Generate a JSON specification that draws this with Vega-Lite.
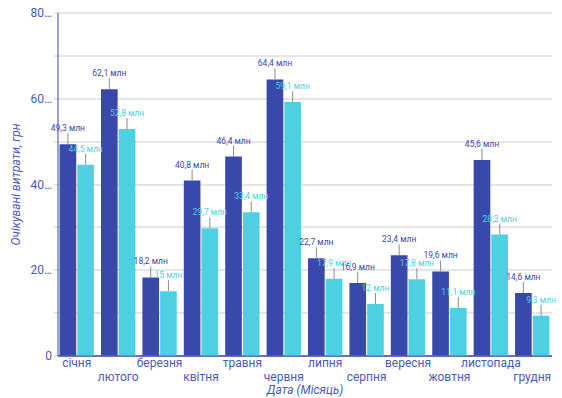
{
  "$schema": "https://vega.github.io/schema/vega-lite/v6.json",
  "autosize": {"type": "none"},
  "padding": {"left": 57.5, "top": 12.5, "right": 10.5, "bottom": 42},
  "width": 494,
  "height": 343,
  "background": "white",
  "config": {
    "font": "Roboto",
    "view": {"stroke": null}
  },
  "data": {
    "values": [
      {"month": "січня", "s": "a", "v": 49.3, "label": "49,3 млн"},
      {"month": "січня", "s": "b", "v": 44.5, "label": "44,5 млн"},
      {"month": "лютого", "s": "a", "v": 62.1, "label": "62,1 млн"},
      {"month": "лютого", "s": "b", "v": 52.8, "label": "52,8 млн"},
      {"month": "березня", "s": "a", "v": 18.2, "label": "18,2 млн"},
      {"month": "березня", "s": "b", "v": 15, "label": "15 млн"},
      {"month": "квітня", "s": "a", "v": 40.8, "label": "40,8 млн"},
      {"month": "квітня", "s": "b", "v": 29.7, "label": "29,7 млн"},
      {"month": "травня", "s": "a", "v": 46.4, "label": "46,4 млн"},
      {"month": "травня", "s": "b", "v": 33.4, "label": "33,4 млн"},
      {"month": "червня", "s": "a", "v": 64.4, "label": "64,4 млн"},
      {"month": "червня", "s": "b", "v": 59.1, "label": "59,1 млн"},
      {"month": "липня", "s": "a", "v": 22.7, "label": "22,7 млн"},
      {"month": "липня", "s": "b", "v": 17.9, "label": "17,9 млн"},
      {"month": "серпня", "s": "a", "v": 16.9, "label": "16,9 млн"},
      {"month": "серпня", "s": "b", "v": 12, "label": "12 млн"},
      {"month": "вересня", "s": "a", "v": 23.4, "label": "23,4 млн"},
      {"month": "вересня", "s": "b", "v": 17.8, "label": "17,8 млн"},
      {"month": "жовтня", "s": "a", "v": 19.6, "label": "19,6 млн"},
      {"month": "жовтня", "s": "b", "v": 11.1, "label": "11,1 млн"},
      {"month": "листопада", "s": "a", "v": 45.6, "label": "45,6 млн"},
      {"month": "листопада", "s": "b", "v": 28.2, "label": "28,2 млн"},
      {"month": "грудня", "s": "a", "v": 14.6, "label": "14,6 млн"},
      {"month": "грудня", "s": "b", "v": 9.3, "label": "9,3 млн"}
    ]
  },
  "encoding": {
    "x": {
      "field": "month",
      "type": "nominal",
      "sort": ["січня", "лютого", "березня", "квітня", "травня", "червня", "липня", "серпня", "вересня", "жовтня", "листопада", "грудня"],
      "scale": {"paddingInner": 0.17, "paddingOuter": 0.05},
      "title": "Дата (Місяць)",
      "axis": {
        "labelAngle": 0,
        "labelExpr": "round(datum.index * 11) % 2 == 1 ? ['', datum.label] : datum.label",
        "labelLineHeight": 13.5,
        "labelFontSize": 12,
        "labelColor": "#4a5bb5",
        "labelPadding": 2,
        "ticks": false,
        "domainColor": "#3949AB",
        "domainWidth": 1.5,
        "titleColor": "#4a5bb5",
        "titleFontSize": 12,
        "titleFontStyle": "italic",
        "titleFontWeight": "normal",
        "titlePadding": 2
      }
    },
    "xOffset": {"field": "s", "type": "nominal", "scale": {"paddingInner": 0.06}},
    "y": {
      "field": "v",
      "type": "quantitative",
      "scale": {"domain": [0, 80], "nice": false},
      "title": "Очікувані витрати, грн",
      "axis": {
        "values": [0, 10, 20, 30, 40, 50, 60, 70, 80],
        "labelExpr": "datum.value % 20 != 0 ? '' : (datum.value == 0 ? '0' : datum.label + '…')",
        "labelFontSize": 12,
        "labelColor": "#4a5bb5",
        "labelPadding": 2,
        "tickColor": "#cccccc",
        "tickSize": 4,
        "gridColor": "#cccccc",
        "domainColor": "#3949AB",
        "titleColor": "#4a5bb5",
        "titleFontSize": 12,
        "titleFontStyle": "italic",
        "titleFontWeight": "normal",
        "titlePadding": 7
      }
    },
    "color": {
      "field": "s",
      "type": "nominal",
      "scale": {"domain": ["a", "b"], "range": ["#3949AB", "#4DD0E1"]},
      "legend": null
    }
  },
  "layer": [
    {"mark": {"type": "bar"}},
    {
      "mark": {"type": "rule", "color": "#8c8c8c", "strokeWidth": 1, "y2Offset": -11},
      "encoding": {"y2": {"field": "v"}, "color": {"value": "#8c8c8c"}}
    },
    {
      "mark": {"type": "text", "fontSize": 8.5, "baseline": "alphabetic", "dy": -13},
      "encoding": {"text": {"field": "label"}}
    }
  ]
}
